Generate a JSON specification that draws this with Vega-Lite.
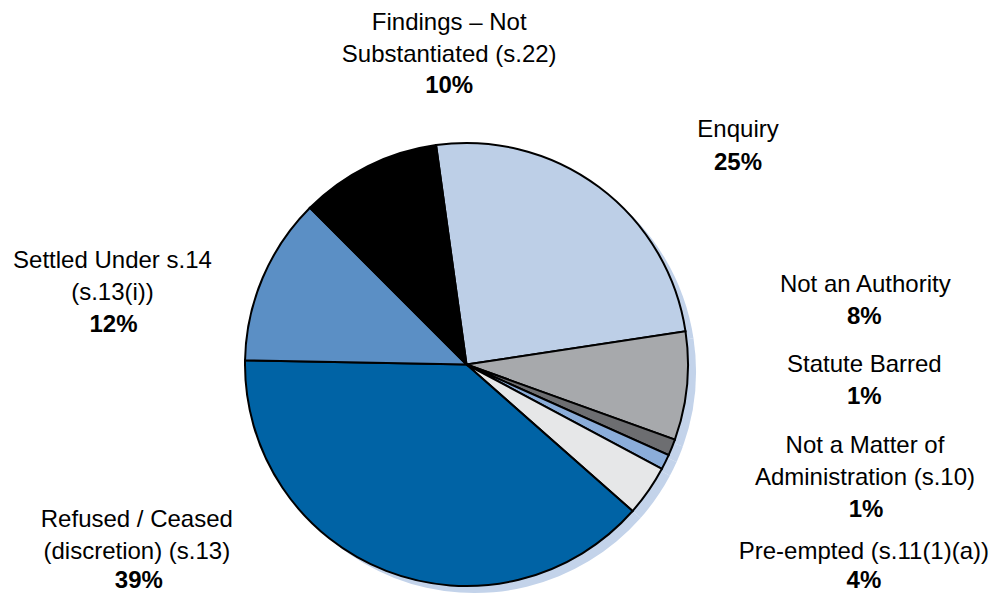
{
  "$schema": "https://vega.github.io/schema/vega-lite/v6.json",
  "width": 933,
  "height": 459,
  "autosize": {"type": "none"},
  "padding": {"left": 0, "top": 135, "right": 60, "bottom": 0},
  "background": "white",
  "config": {"view": {"stroke": null}, "text": {"font": "Liberation Sans"}},
  "data": {
    "values": [
      {"rank": 1, "category": "Enquiry", "label": "Enquiry", "value": 24.8, "pct": "25%"},
      {"rank": 2, "category": "Not an Authority", "label": "Not an Authority", "value": 7.9, "pct": "8%"},
      {"rank": 3, "category": "Statute Barred", "label": "Statute Barred", "value": 1.2, "pct": "1%"},
      {"rank": 4, "category": "Not a Matter of Administration (s.10)", "label": "Not a Matter of\nAdministration (s.10)", "value": 1.1, "pct": "1%"},
      {"rank": 5, "category": "Pre-empted (s.11(1)(a))", "label": "Pre-empted (s.11(1)(a))", "value": 3.7, "pct": "4%"},
      {"rank": 6, "category": "Refused / Ceased (discretion) (s.13)", "label": "Refused / Ceased\n(discretion) (s.13)", "value": 38.8, "pct": "39%"},
      {"rank": 7, "category": "Settled Under s.14 (s.13(i))", "label": "Settled Under s.14\n(s.13(i))", "value": 12.2, "pct": "12%"},
      {"rank": 8, "category": "Findings – Not Substantiated (s.22)", "label": "Findings – Not\nSubstantiated (s.22)", "value": 10.3, "pct": "10%"}
    ]
  },
  "encoding": {
    "theta": {"field": "value", "type": "quantitative", "stack": true, "scale": {"range": [-0.1379, 6.1453]}},
    "order": {"field": "rank", "type": "quantitative"}
  },
  "layer": [
    {
      "mark": {"type": "arc", "radius": 221.5, "color": "#c3d3ea", "xOffset": 8, "yOffset": 7}
    },
    {
      "mark": {"type": "arc", "radius": 221.5, "stroke": "#000000", "strokeWidth": 2},
      "encoding": {
        "color": {
          "field": "category",
          "type": "nominal",
          "scale": {
            "domain": ["Enquiry", "Not an Authority", "Statute Barred", "Not a Matter of Administration (s.10)", "Pre-empted (s.11(1)(a))", "Refused / Ceased (discretion) (s.13)", "Settled Under s.14 (s.13(i))", "Findings – Not Substantiated (s.22)"],
            "range": ["#bdcfe7", "#a7a9ac", "#6d6e71", "#8badd9", "#e6e7e8", "#0063a5", "#5b8fc5", "#000000"]
          },
          "legend": null
        }
      }
    },
    {
      "mark": {
        "type": "text", "radius": 250, "align": "center", "baseline": "alphabetic",
        "fontSize": 24, "lineBreak": "\n", "lineHeight": 32, "color": "#000000",
        "dx": {"expr": "[122, 150, 166, 174, 192, -239, -124, 94][datum.rank - 1]"},
        "dy": {"expr": "[-27, -97, -86, -22, 52, -70, 1, -111][datum.rank - 1]"}
      },
      "encoding": {"text": {"field": "label", "type": "nominal"}}
    },
    {
      "mark": {
        "type": "text", "radius": 250, "align": "center", "baseline": "alphabetic",
        "fontSize": 24, "fontWeight": "bold", "color": "#000000",
        "dx": {"expr": "[122, 149, 166, 175, 192, -237, -123, 94][datum.rank - 1]"},
        "dy": {"expr": "[6, -65, -54, 42, 81, -9, 65, -48][datum.rank - 1]"}
      },
      "encoding": {"text": {"field": "pct", "type": "nominal"}}
    }
  ]
}
